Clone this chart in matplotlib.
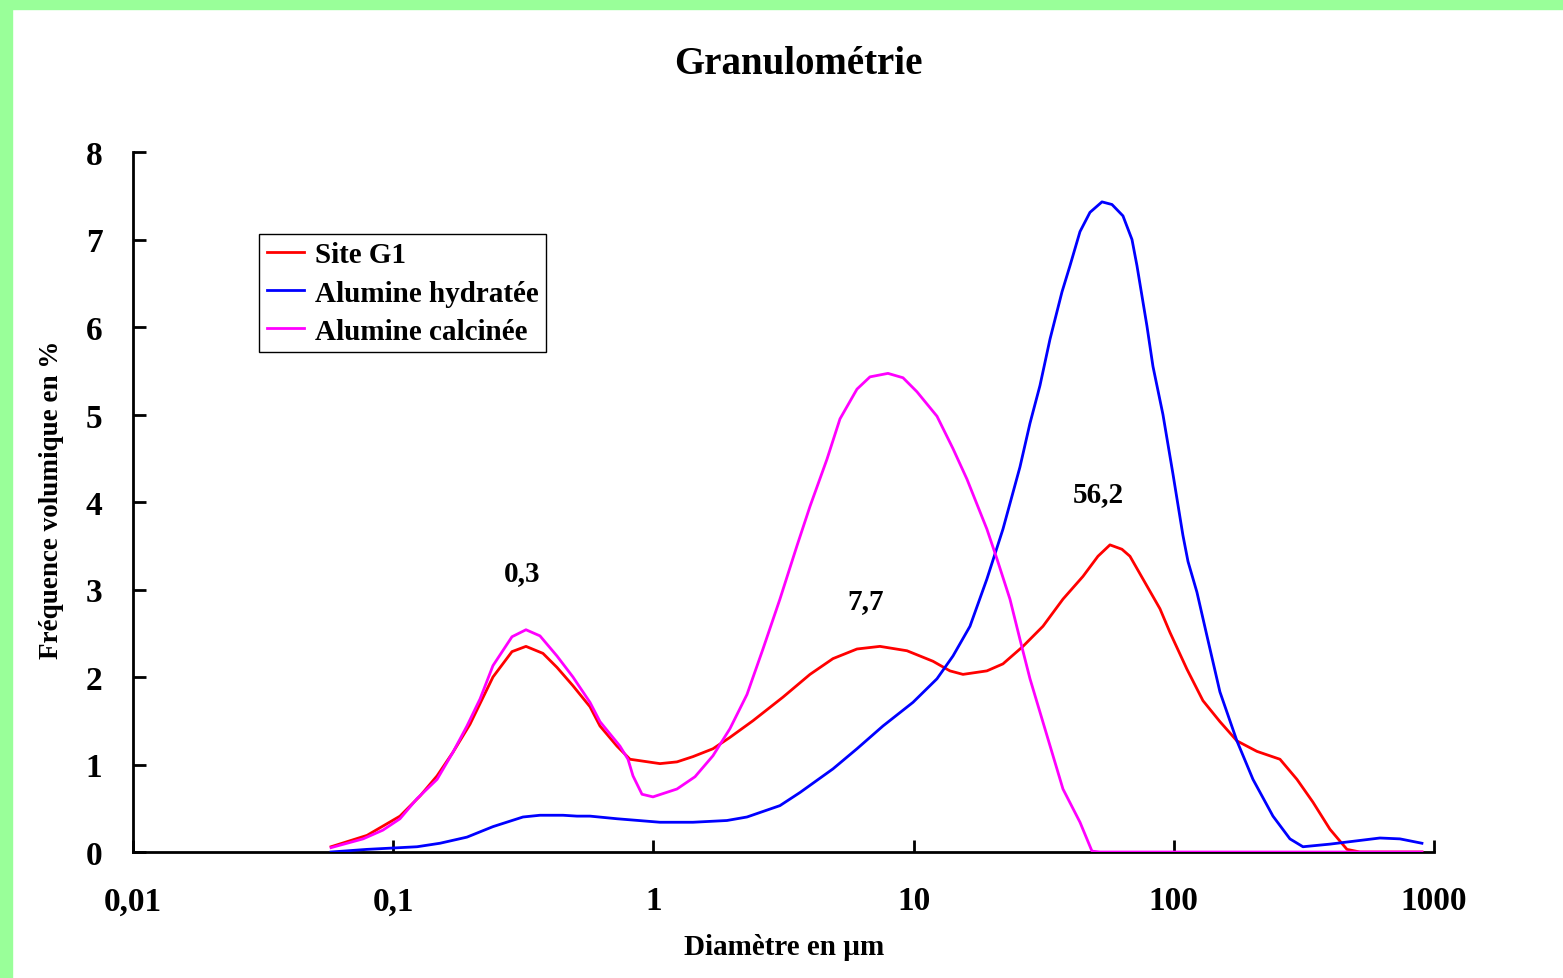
#Granulometrie : frequence volumique vs diametre (echelle log)
import numpy as np
import matplotlib
matplotlib.use('Agg')
import matplotlib.pyplot as plt
from matplotlib.patches import Rectangle

plt.rcParams['font.family'] = ['Liberation Serif', 'DejaVu Serif']
plt.rcParams['font.weight'] = 'bold'

# Site G1
d_g1 = [0.0577, 0.0793, 0.1062, 0.1268, 0.1474, 0.1697, 0.1973, 0.2418, 0.2861, 0.3238,
        0.3763, 0.4260, 0.4907, 0.5706, 0.6233, 0.7244, 0.8128, 1.060, 1.232, 1.419,
        1.694, 1.969, 2.413, 3.148, 3.998, 4.899, 6.059, 7.424, 9.430, 11.87,
        13.79, 15.48, 19.13, 22.05, 26.32, 31.42, 37.50, 44.77, 51.11, 56.84,
        63.19, 67.84, 76.11, 88.47, 96.65, 112.3, 129.4, 150.4, 174.8, 208.7,
        255.9, 297.4, 342.5, 398.2, 462.9, 519.4, 898.8]
f_g1 = [0.06, 0.19, 0.41, 0.64, 0.87, 1.14, 1.46, 2.00, 2.29, 2.35,
        2.27, 2.11, 1.90, 1.66, 1.44, 1.21, 1.06, 1.01, 1.03, 1.09,
        1.18, 1.31, 1.50, 1.77, 2.03, 2.21, 2.32, 2.35, 2.30, 2.18,
        2.07, 2.03, 2.07, 2.15, 2.35, 2.58, 2.89, 3.15, 3.38, 3.51,
        3.46, 3.38, 3.12, 2.78, 2.51, 2.09, 1.73, 1.49, 1.27, 1.15,
        1.06, 0.83, 0.57, 0.26, 0.03, 0.0, 0.0]

# Alumine hydratee
d_hyd = [0.0577, 0.0793, 0.1235, 0.1513, 0.1921, 0.2418, 0.3153, 0.3665, 0.4493, 0.5085,
         0.5706, 0.7244, 1.060, 1.419, 1.917, 2.289, 3.064, 3.659, 4.899, 6.059,
         7.625, 9.943, 12.30, 14.17, 16.47, 19.13, 22.05, 25.63, 28.01, 30.59,
         33.43, 37.17, 39.90, 43.60, 47.62, 52.96, 57.86, 63.77, 69.07, 72.19,
         78.86, 83.16, 90.84, 99.26, 108.4, 113.4, 122.7, 134.1, 150.4, 174.8,
         201.5, 240.5, 279.5, 313.6, 398.2, 619.6, 739.8, 898.8]
f_hyd = [0.0, 0.03, 0.06, 0.10, 0.17, 0.29, 0.40, 0.42, 0.42, 0.41,
         0.41, 0.38, 0.34, 0.34, 0.36, 0.40, 0.53, 0.68, 0.95, 1.18,
         1.44, 1.71, 1.98, 2.24, 2.58, 3.12, 3.69, 4.40, 4.90, 5.33,
         5.86, 6.40, 6.70, 7.09, 7.31, 7.43, 7.40, 7.27, 7.00, 6.70,
         6.01, 5.55, 5.00, 4.32, 3.62, 3.32, 2.97, 2.47, 1.83, 1.27,
         0.83, 0.41, 0.15, 0.06, 0.09, 0.16, 0.15, 0.10]

# Alumine calcinee
d_cal = [0.0577, 0.0766, 0.0913, 0.1062, 0.1235, 0.1474, 0.1697, 0.1921, 0.2157, 0.2418,
         0.2861, 0.3238, 0.3665, 0.4260, 0.4907, 0.5706, 0.6233, 0.7439, 0.7986, 0.8348,
         0.9040, 0.9963, 1.232, 1.445, 1.694, 1.969, 2.289, 2.637, 3.064, 3.563,
         3.998, 4.647, 5.213, 6.059, 6.797, 7.970, 9.104, 10.30, 12.30, 14.17,
         16.04, 19.13, 20.91, 23.46, 25.63, 28.01, 32.56, 37.50, 43.60, 48.47,
         52.03, 898.8]
f_cal = [0.05, 0.15, 0.25, 0.38, 0.61, 0.83, 1.14, 1.44, 1.75, 2.13,
         2.46, 2.54, 2.47, 2.24, 2.00, 1.71, 1.49, 1.21, 1.06, 0.87,
         0.66, 0.63, 0.72, 0.86, 1.10, 1.41, 1.80, 2.32, 2.89, 3.50,
         3.95, 4.49, 4.95, 5.29, 5.43, 5.47, 5.42, 5.26, 4.98, 4.61,
         4.26, 3.69, 3.35, 2.89, 2.43, 1.98, 1.33, 0.72, 0.34, 0.01,
         0.0, 0.0]

xticks = [0.01, 0.1, 1, 10, 100, 1000]
xtick_labels = ['0,01', '0,1', '1', '10', '100', '1000']
yticks = [0, 1, 2, 3, 4, 5, 6, 7, 8]

# labels des modes
modes = ['0,3', '7,7', '56,2']
mode_x = [0.3126, 6.56, 51.1]
mode_y = [3.19, 2.87, 4.10]

fig = plt.figure(figsize=(15.63, 9.79), dpi=100)
fig.patch.set_facecolor('white')
# bordure verte (haut et gauche)
fig.add_artist(Rectangle((0, 1 - 10/979), 1, 10/979, transform=fig.transFigure,
                         color='#99FF99', zorder=0))
fig.add_artist(Rectangle((0, 0), 12/1563, 1, transform=fig.transFigure,
                         color='#99FF99', zorder=0))

ax = fig.add_axes([133/1563, 126/979, 1301/1563, 700/979])
ax.plot(d_g1, f_g1, color='#FF0000', lw=2, label='Site G1', zorder=3)
ax.plot(d_hyd, f_hyd, color='#0000FF', lw=2, label='Alumine hydratée', zorder=3)
ax.plot(d_cal, f_cal, color='#FF00FF', lw=2, label='Alumine calcinée', zorder=4)

ax.set_xscale('log')
ax.set_xlim(0.01, 1000)
ax.set_ylim(0, 8)
ax.set_xticks(xticks)
ax.set_xticklabels(xtick_labels)
ax.set_yticks(yticks)
ax.minorticks_off()
ax.tick_params(axis='both', direction='in', length=9, width=2, labelsize=24)
ax.tick_params(axis='x', pad=24)
ax.tick_params(axis='y', pad=22)
ax.spines['top'].set_visible(False)
ax.spines['right'].set_visible(False)
ax.spines['left'].set_linewidth(2)
ax.spines['bottom'].set_linewidth(2)

for t, x, y in zip(modes, mode_x, mode_y):
    ax.text(x, y, t, ha='center', va='center', fontsize=21, fontweight='bold')

fig.text(798/1563, 1 - 65/979, 'Granulométrie', ha='center', va='center',
         fontsize=28, fontweight='bold')
fig.text(784/1563, 1 - 948/979, 'Diamètre en µm', ha='center', va='center',
         fontsize=21, fontweight='bold')
fig.text(52/1563, 1 - 500/979, 'Fréquence volumique en %', ha='center', va='center',
         rotation=90, fontsize=19.5, fontweight='bold')

leg = ax.legend(loc='upper left', bbox_to_anchor=(0.0968, 0.883), borderaxespad=0,
                fontsize=21, frameon=True, fancybox=False, framealpha=1,
                edgecolor='black', handlelength=1.3, handletextpad=0.35,
                labelspacing=0.38, borderpad=0.26)
leg.get_frame().set_linewidth(1)
for t in leg.get_texts():
    t.set_fontweight('bold')

plt.savefig('out.png', dpi=100)
